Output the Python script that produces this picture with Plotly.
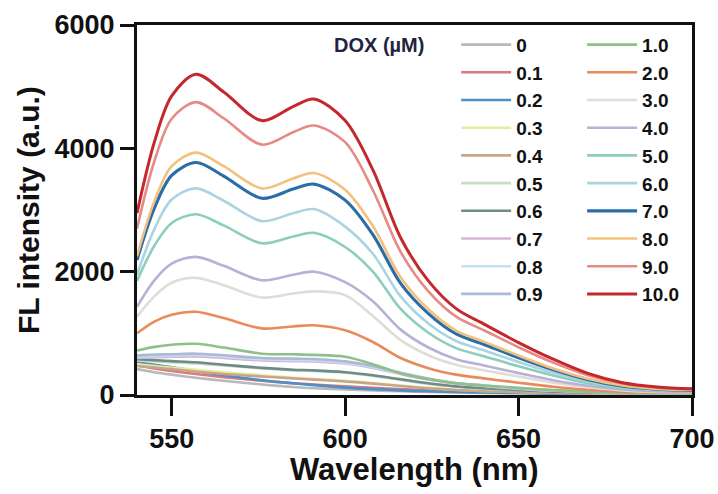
import plotly.graph_objects as go

wavelength = [540, 545, 550, 557, 565, 576, 585, 591, 600, 608, 616, 624, 632, 640, 650, 660, 670, 680, 690, 700]

labels = ["0", "0.1", "0.2", "0.3", "0.4", "0.5", "0.6", "0.7", "0.8", "0.9",
          "1.0", "2.0", "3.0", "4.0", "5.0", "6.0", "7.0", "8.0", "9.0", "10.0"]

colors = ["#b9b9b9", "#d9787f", "#4f8fc4", "#e6eca0", "#c8a488", "#c9dcc4", "#6e8c86", "#d8b4d6", "#c6e0f0", "#a9b9d6",
          "#8fc08a", "#e88a5a", "#e1ddd6", "#b8b1d6", "#8ccdbb", "#abd4e2", "#2b6ea6", "#f3c07e", "#e58a86", "#c4282c"]

dox_0 = [420, 370, 330, 280, 230, 170, 130, 110, 90, 75, 60, 50, 42, 35, 28, 22, 18, 15, 13, 12]
dox_0_1 = [480, 430, 390, 340, 290, 230, 190, 170, 140, 115, 95, 75, 60, 48, 38, 30, 24, 20, 17, 15]
dox_0_2 = [540, 490, 450, 390, 320, 240, 190, 160, 120, 95, 75, 60, 48, 40, 32, 25, 20, 17, 15, 14]
dox_0_3 = [500, 470, 440, 410, 370, 320, 280, 260, 230, 195, 155, 115, 85, 65, 48, 36, 28, 23, 20, 18]
dox_0_4 = [470, 445, 420, 380, 340, 300, 270, 250, 220, 185, 145, 110, 82, 62, 46, 35, 27, 22, 19, 17]
dox_0_5 = [560, 545, 530, 510, 480, 430, 400, 390, 360, 310, 245, 180, 135, 105, 75, 52, 38, 30, 25, 22]
dox_0_6 = [580, 565, 550, 530, 490, 440, 410, 400, 370, 320, 255, 190, 140, 110, 78, 55, 40, 32, 26, 23]
dox_0_7 = [600, 615, 620, 625, 600, 560, 550, 545, 510, 440, 340, 250, 185, 145, 100, 70, 50, 38, 30, 26]
dox_0_8 = [620, 635, 640, 650, 625, 580, 570, 565, 525, 455, 350, 260, 190, 150, 105, 72, 52, 40, 31, 27]
dox_0_9 = [640, 655, 660, 670, 645, 600, 590, 585, 545, 470, 360, 268, 195, 155, 108, 75, 54, 41, 32, 28]
dox_1 = [720, 780, 815, 830, 770, 670, 660, 650, 620, 500, 350, 255, 190, 155, 115, 80, 55, 40, 30, 25]
dox_2 = [1000, 1190, 1300, 1350, 1247, 1080, 1112, 1130, 1050, 860, 600, 435, 330, 270, 200, 135, 85, 55, 40, 35]
dox_3 = [1270, 1600, 1820, 1900, 1780, 1580, 1645, 1680, 1620, 1280, 890, 645, 490, 400, 300, 200, 125, 75, 50, 45]
dox_4 = [1430, 1860, 2130, 2240, 2095, 1860, 1951, 2000, 1830, 1520, 1060, 770, 580, 480, 355, 240, 150, 90, 60, 50]
dox_5 = [1850, 2420, 2790, 2930, 2750, 2460, 2570, 2630, 2400, 2000, 1395, 1010, 760, 630, 465, 315, 190, 110, 75, 60]
dox_6 = [1950, 2690, 3170, 3350, 3150, 2820, 2947, 3015, 2730, 2290, 1600, 1160, 875, 725, 535, 360, 220, 130, 85, 70]
dox_7 = [2190, 3030, 3560, 3770, 3550, 3190, 3340, 3420, 3160, 2600, 1810, 1320, 990, 820, 605, 410, 250, 145, 95, 75]
dox_8 = [2250, 3140, 3710, 3930, 3710, 3350, 3512, 3600, 3330, 2740, 1910, 1390, 1045, 865, 640, 430, 265, 155, 100, 80]
dox_9 = [2700, 3790, 4480, 4750, 4488, 4060, 4262, 4370, 4100, 3320, 2320, 1680, 1270, 1050, 775, 525, 320, 185, 120, 95]
dox_10 = [2950, 4100, 4850, 5200, 4915, 4450, 4678, 4800, 4450, 3650, 2550, 1850, 1400, 1150, 850, 580, 350, 200, 130, 100]

series = [dox_0, dox_0_1, dox_0_2, dox_0_3, dox_0_4, dox_0_5, dox_0_6, dox_0_7, dox_0_8, dox_0_9,
          dox_1, dox_2, dox_3, dox_4, dox_5, dox_6, dox_7, dox_8, dox_9, dox_10]
line_widths = [2.6] * 16 + [3.2, 2.6, 2.6, 3.0]

x_ticks = [550, 600, 650, 700]
y_ticks = [0, 2000, 4000, 6000]

fig = go.Figure()
for i, (lab, col, ys) in enumerate(zip(labels, colors, series)):
    fig.add_trace(go.Scatter(
        x=wavelength, y=ys, mode="lines", name=lab,
        line=dict(color=col, width=line_widths[i], shape="spline", smoothing=0.9),
        legend="legend" if i < 10 else "legend2",
    ))

FAM = "Liberation Sans, Arial, sans-serif"
font_b = dict(family=FAM, color="#111111", weight="bold")

legend_common = dict(
    font=dict(size=19, **font_b), bgcolor="rgba(0,0,0,0)", borderwidth=0,
    orientation="v", yanchor="top", xanchor="left", tracegroupgap=0,
    itemwidth=50, maxheight=420,
)
fig.update_layout(
    width=718, height=494,
    margin=dict(l=137, r=26, t=25, b=99, autoexpand=False),
    plot_bgcolor="white", paper_bgcolor="white",
    legend=dict(x=0.575, y=0.998, **legend_common),
    legend2=dict(x=0.802, y=0.998, **legend_common),
    xaxis=dict(
        range=[540, 700], tickvals=x_ticks, ticks="outside", ticklen=18, tickwidth=3,
        tickcolor="#111111", showline=True, linewidth=3, linecolor="#111111", mirror=True,
        showgrid=False, zeroline=False, automargin=False,
        tickfont=dict(size=27, **font_b),
    ),
    yaxis=dict(
        range=[0, 6000], tickvals=y_ticks, ticks="outside", ticklen=14, tickwidth=3,
        tickcolor="#111111", showline=True, linewidth=3, linecolor="#111111", mirror=True,
        showgrid=False, zeroline=False, automargin=False,
        tickfont=dict(size=27, **font_b),
    ),
    annotations=[
        dict(text="DOX (µM)", xref="paper", yref="paper", x=0.352, y=0.945, xanchor="left", yanchor="middle",
             showarrow=False, font=dict(size=20, family=FAM, color="#22243f", weight="bold")),
        dict(text="Wavelength (nm)", xref="paper", yref="paper", x=0.5, y=0, xanchor="center", yanchor="middle",
             yshift=-74, showarrow=False, font=dict(size=31, **font_b)),
        dict(text="FL intensity (a.u.)", xref="paper", yref="paper", x=0, y=0.5, xanchor="center", yanchor="middle",
             xshift=-109, textangle=-90, showarrow=False, font=dict(size=30, **font_b)),
    ],
)

fig.write_html("out.html", config={"displayModeBar": False},
               post_script="document.body.style.margin='0';document.body.style.overflow='hidden';")
